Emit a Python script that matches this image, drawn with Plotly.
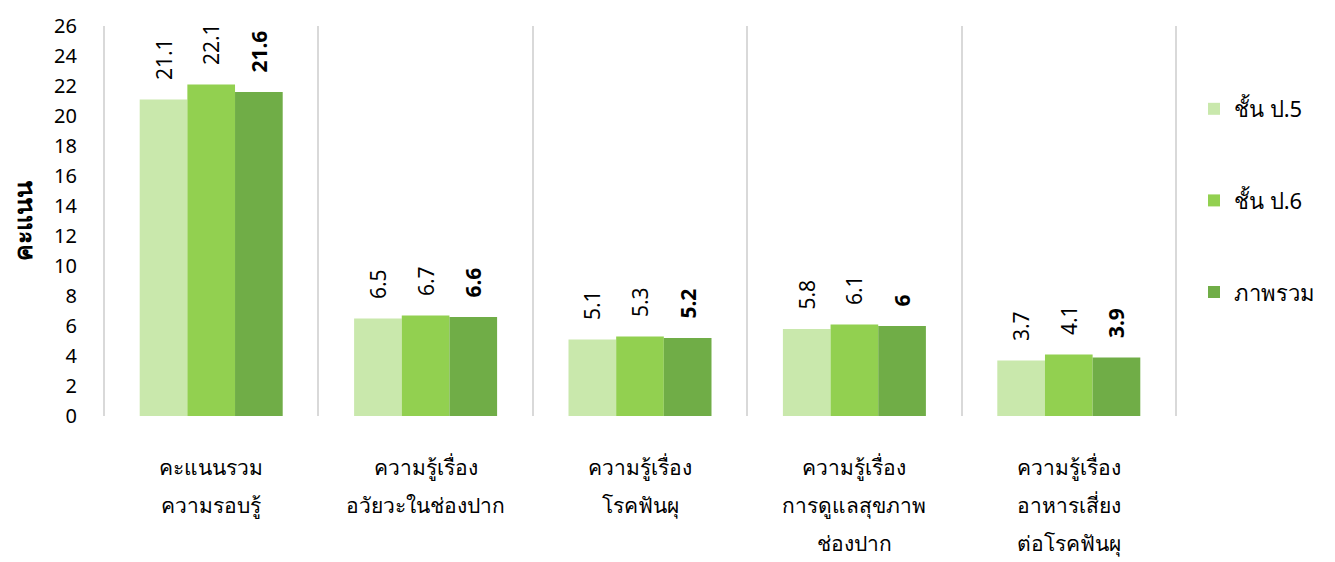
import plotly.graph_objects as go

category_lines = [
    ["คะแนนรวม", "ความรอบรู้"],
    ["ความรู้เรื่อง", "อวัยวะในช่องปาก"],
    ["ความรู้เรื่อง", "โรคฟันผุ"],
    ["ความรู้เรื่อง", "การดูแลสุขภาพ", "ช่องปาก"],
    ["ความรู้เรื่อง", "อาหารเสี่ยง", "ต่อโรคฟันผุ"],
]
categories = [" ".join(lines) for lines in category_lines]
series_names = ["ชั้น ป.5", "ชั้น ป.6", "ภาพรวม"]
p5 = [21.1, 6.5, 5.1, 5.8, 3.7]
p6 = [22.1, 6.7, 5.3, 6.1, 4.1]
overall = [21.6, 6.6, 5.2, 6.0, 3.9]
colors = ["#C9E8AC", "#92D050", "#70AD47"]
y_ticks = list(range(0, 27, 2))

FONT = "Noto Sans, sans-serif"
PLOT_H = 562 - 26 - 146

fig = go.Figure()
for i, (name, vals) in enumerate(zip(series_names, [p5, p6, overall])):
    pad = "\u00a0\u00a0\u00a0"
    if i == 2:
        texts = [pad + f"<b>{v:g}</b>" for v in vals]
    else:
        texts = [pad + f"{v:g}" for v in vals]
    fig.add_trace(go.Bar(
        x=categories, y=vals, name=name,
        marker=dict(color=colors[i], line=dict(width=0)),
        text=texts, textposition="outside", textangle=-90,
        constraintext="none",
        textfont=dict(size=21, color="#000000", family=FONT),
        cliponaxis=False,
        legendgroup=f"g{i}",
    ))

annotations = []
for cat, lines in zip(categories, category_lines):
    for j, line in enumerate(lines):
        annotations.append(dict(
            x=cat, xref="x", yref="paper",
            y=-(51 + 38 * j) / PLOT_H, yanchor="middle",
            text=line, showarrow=False,
            font=dict(size=21, family=FONT, color="#000000"),
        ))

fig.update_layout(
    width=1335, height=562,
    margin=dict(l=104, r=159, t=26, b=146),
    paper_bgcolor="white", plot_bgcolor="white",
    barmode="group", bargap=0.333, bargroupgap=0,
    font=dict(family=FONT, size=18, color="#000000"),
    showlegend=True,
    legend=dict(x=1 + (1194 - 1176) / (1335 - 104 - 159), y=0.841,
                xanchor="left", yanchor="top",
                font=dict(size=22, family=FONT), tracegroupgap=60,
                itemwidth=30),
    annotations=annotations,
    shapes=[
        dict(type="line", xref="paper", yref="paper", x0=0, x1=0, y0=0, y1=1,
             line=dict(color="#D9D9D9", width=2)),
        dict(type="line", xref="paper", yref="paper", x0=1, x1=1, y0=0, y1=1,
             line=dict(color="#D9D9D9", width=2)),
    ],
)
fig.update_xaxes(
    tickson="boundaries", showgrid=True, gridcolor="#D9D9D9", gridwidth=2,
    ticks="", showline=False, zeroline=False, showticklabels=False,
    range=[-0.5, 4.5], automargin=False,
)
fig.update_yaxes(
    range=[0, 26], tickvals=y_ticks, showgrid=False, zeroline=False,
    showline=False, ticks="", tickfont=dict(size=20, family=FONT),
    ticklabelstandoff=26, automargin=False,
    title=dict(text="<b>คะแนน</b>", font=dict(size=25, family=FONT), standoff=14),
)

fig.write_html("out.html")
